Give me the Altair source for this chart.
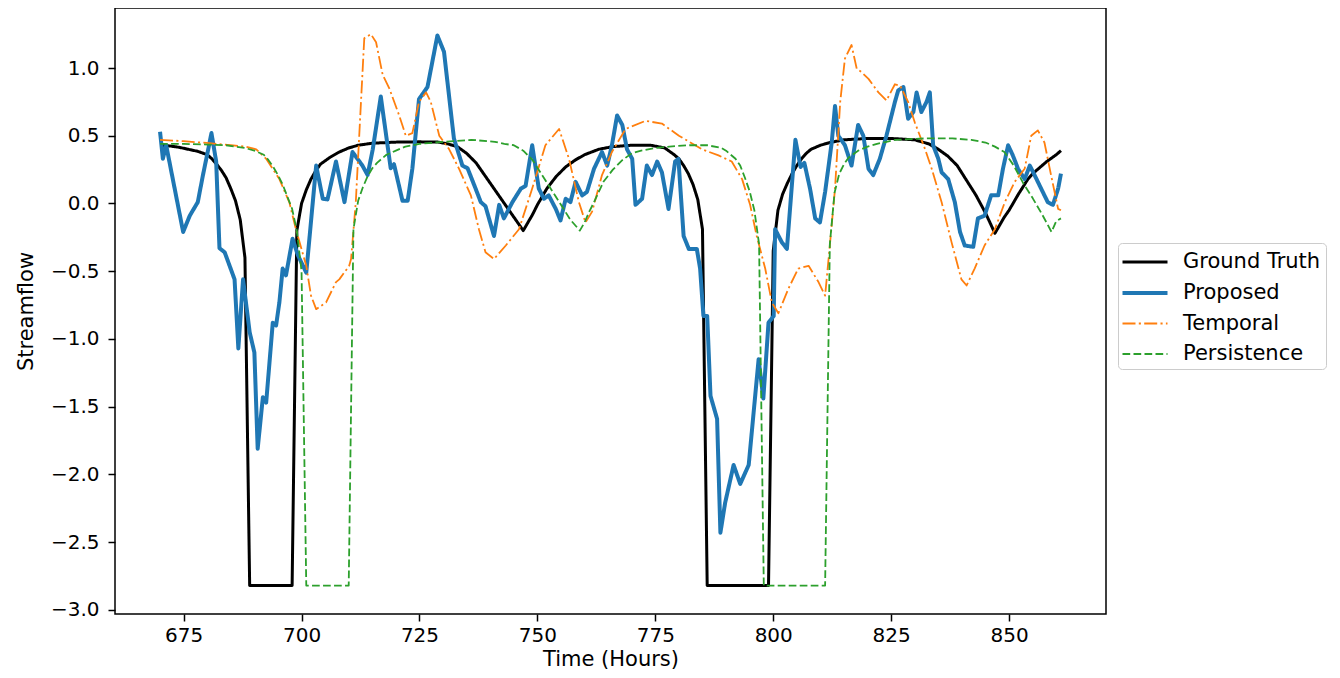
import altair as alt
import pandas as pd

# ---------------- data ----------------
series_names = ["Ground Truth", "Proposed", "Temporal", "Persistence"]

gt_hours = [670, 672, 674, 676, 678, 680, 681, 682, 683, 684, 685, 686, 687, 688, 689,
            698, 699, 700, 701, 702, 703, 704, 706, 708, 710, 712, 715, 720, 725, 729,
            731, 733, 735, 737, 739, 741, 743, 745, 747, 748, 749, 750, 752, 754, 756,
            758, 760, 763, 766, 770, 774, 777, 779, 780, 781, 782, 783, 784, 785, 786,
            799, 800, 801, 802, 803, 804, 805, 806, 807, 808, 810, 812, 815, 820, 825,
            830, 833, 835, 837, 839, 841, 843, 845, 847, 848, 849, 850, 852, 854, 855,
            856, 858, 860, 861]
gt_values = [0.43, 0.425, 0.415, 0.40, 0.385, 0.36, 0.33, 0.29, 0.245, 0.19, 0.11, 0.02, -0.12, -0.40, -2.82,
             -2.82, -0.20, 0.0, 0.10, 0.18, 0.24, 0.29, 0.34, 0.38, 0.41, 0.43, 0.445, 0.453, 0.455, 0.453,
             0.44, 0.42, 0.37, 0.30, 0.20, 0.10, 0.00, -0.10, -0.20, -0.14, -0.08, -0.01, 0.11, 0.20, 0.27,
             0.32, 0.36, 0.40, 0.42, 0.43, 0.43, 0.41, 0.36, 0.33, 0.28, 0.22, 0.14, 0.03, -0.19, -2.82,
             -2.82, -0.35, -0.05, 0.07, 0.15, 0.22, 0.28, 0.33, 0.37, 0.40, 0.43, 0.45, 0.47, 0.48, 0.48,
             0.47, 0.44, 0.40, 0.35, 0.28, 0.17, 0.06, -0.07, -0.22, -0.16, -0.10, -0.05, 0.07, 0.18, 0.22,
             0.25, 0.31, 0.36, 0.39]

prop_hours = [670, 670.6, 671.3, 674.9, 676.3, 678, 679.1, 680.1, 680.9, 681.9, 682.6, 683.7,
              685.8, 686.6, 687.6, 689, 690, 690.7, 691.8, 692.5, 693.9, 694.6, 695.3, 696, 696.7,
              698.1, 699.2, 701, 703.1, 704.5, 705.5, 707.3, 709.1, 710.8, 712.9, 714, 715.1,
              716.8, 718.9, 719.6, 721.4, 722.5, 723.5, 724.9, 726.7, 728.8, 730.2, 732.3, 734.1,
              735.2, 736.9, 738, 739, 740.8, 741.9, 742.9, 744.7, 746.5, 747.5, 748.9, 750.3,
              751.4, 752.4, 753.9, 754.9, 756, 757, 758.1, 759.5, 760.5, 762, 763.7, 764.8,
              765.8, 766.9, 768, 769, 770.1, 770.8, 772.2, 773.2, 774.3, 775.4, 776.4, 777.8,
              779.2, 779.9, 781, 782.1, 783.8, 784.5, 785.2, 786, 786.7, 788.1, 788.8, 789.8,
              791.6, 793, 794.8, 796.9, 797.9, 799, 800.1, 800.4, 801.8, 802.9, 804.7, 805.8,
              806.6, 807.8, 808.9, 809.9, 811, 812.4, 813.1, 813.8, 815.2, 816.6, 818, 819.1,
              820.2, 821.2, 822.6, 824, 825.8, 826.5, 827.6, 828.6, 829.7, 830.4, 831.4, 832.5,
              833.2, 833.9, 835, 835.7, 837.1, 838.5, 839.6, 840.6, 842.4, 843.4, 844.8, 846.2,
              847.7, 848.7, 849.8, 850.8, 851.9, 853.3, 854.4, 855.4, 856.8, 858.2, 859.3, 860.4,
              861]
prop_values = [0.53, 0.33, 0.43, -0.21, -0.09, 0.01, 0.21, 0.38, 0.52, 0.31, -0.33, -0.36,
               -0.56, -1.07, -0.56, -0.95, -1.10, -1.81, -1.43, -1.47, -0.88, -0.90, -0.73, -0.48, -0.53,
               -0.26, -0.38, -0.51, 0.28, 0.035, 0.03, 0.31, 0.01, 0.38, 0.28, 0.21, 0.40,
               0.79, 0.26, 0.29, 0.02, 0.02, 0.26, 0.77, 0.86, 1.24, 1.12, 0.48, 0.28,
               0.26, 0.11, 0.01, -0.02, -0.24, -0.01, -0.11, 0.01, 0.11, 0.13, 0.43, 0.11,
               0.035, 0.06, -0.04, -0.125, 0.035, 0.01, 0.16, 0.06, 0.085, 0.256, 0.38, 0.28,
               0.43, 0.65, 0.58, 0.40, 0.33, -0.01, 0.035, 0.28, 0.21, 0.31, 0.23, -0.04,
               0.31, 0.33, -0.24, -0.335, -0.335, -0.48, -0.83, -0.83, -1.42, -1.59, -2.43, -2.21,
               -1.93, -2.07, -1.93, -1.15, -1.44, -0.88, -0.83, -0.19, -0.285, -0.335, 0.47, 0.27,
               0.30, 0.11, -0.11, -0.14, 0.085, 0.45, 0.72, 0.50, 0.43, 0.28, 0.58, 0.50,
               0.256, 0.21, 0.33, 0.50, 0.75, 0.835, 0.86, 0.625, 0.675, 0.82, 0.675, 0.75,
               0.82, 0.43, 0.33, 0.23, 0.18, 0.01, -0.21, -0.31, -0.32, -0.11, -0.09, 0.06,
               0.06, 0.256, 0.43, 0.355, 0.256, 0.18, 0.28, 0.21, 0.11, 0.01, -0.01, 0.11,
               0.22]

temp_hours = [670, 675, 680.5, 685, 688, 690.4, 692.5, 695.3, 697.4, 698.8, 701, 702, 703.1,
              705.2, 707.3, 708, 710.1, 710.5, 711.5, 712.6, 713.3, 714.7, 715.8, 717.2, 718.6,
              720.7, 722.1, 723.5, 724.9, 726.4, 727.4, 729.2, 731.3, 733.4, 735.9, 737.6, 739,
              740.8, 743.3, 746.1, 748.9, 751.7, 754.6, 756.7, 758.8, 760.2, 761.6, 763.7, 765.8,
              768.7, 772.9, 776.4, 780, 784.9, 788.4, 791.2, 793.4, 795.1, 796.5, 798.3, 799.7,
              801.1, 803.2, 805.3, 807.5, 809.6, 811, 812, 813.1, 814.2, 815.2, 816.6, 817.7,
              818.7, 820.2, 822.3, 824, 825.8, 826.9, 828.6, 830, 832.2, 833.6, 835.7, 837.8,
              839.9, 841, 842.7, 844.8, 847, 849.1, 851.2, 853.3, 854.7, 856.1, 857.5, 858.9,
              860.4, 861]
temp_values = [0.47, 0.46, 0.445, 0.43, 0.42, 0.40, 0.33, 0.18, 0.01, -0.19, -0.46, -0.68, -0.78,
               -0.73, -0.58, -0.56, -0.46, -0.41, 0.01, 0.75, 1.22, 1.25, 1.19, 0.95, 0.85,
               0.65, 0.50, 0.52, 0.75, 0.82, 0.75, 0.50, 0.40, 0.256, 0.06, -0.19, -0.36,
               -0.41, -0.31, -0.19, 0.11, 0.43, 0.55, 0.33, 0.01, -0.14, -0.06, 0.21, 0.38,
               0.55, 0.61, 0.59, 0.50, 0.40, 0.355, 0.31, 0.18, -0.01, -0.24, -0.48, -0.73,
               -0.81, -0.63, -0.48, -0.46, -0.58, -0.68, -0.31, 0.11, 0.75, 1.07, 1.17, 0.995,
               0.97, 0.92, 0.82, 0.76, 0.88, 0.87, 0.75, 0.60, 0.40, 0.256, 0.01, -0.285,
               -0.56, -0.605, -0.48, -0.31, -0.19, 0.01, 0.16, 0.256, 0.50, 0.54, 0.45, 0.21,
               -0.04, -0.05]

pers_hours = [670, 675, 680, 684, 686, 688, 690, 692, 693, 694, 695, 696, 697, 698, 699, 700, 701,
              710, 711, 712, 713, 714, 715, 716, 718, 720, 722, 725, 730, 736, 741, 743, 745,
              747, 749, 751, 753, 755, 757, 759, 760, 761, 762, 764, 766, 768, 770, 772, 775,
              778, 782, 786, 789, 790, 791, 792, 793, 794, 795, 796, 797, 798, 811, 812, 813,
              814, 815, 816, 818, 820, 822, 826, 832, 838, 842, 845, 847, 849, 851, 853, 855,
              857, 859, 860, 861]
pers_values = [0.44, 0.44, 0.435, 0.43, 0.42, 0.41, 0.39, 0.36, 0.32, 0.27, 0.21, 0.14, 0.05, -0.04, -0.20, -0.50, -2.82,
               -2.82, -0.19, 0.02, 0.12, 0.20, 0.26, 0.30, 0.36, 0.39, 0.42, 0.44, 0.455, 0.47, 0.455, 0.44, 0.43,
               0.39, 0.32, 0.21, 0.10, -0.01, -0.12, -0.20, -0.14, -0.06, 0.01, 0.16, 0.25, 0.32, 0.37, 0.39, 0.41,
               0.42, 0.43, 0.43, 0.41, 0.39, 0.36, 0.33, 0.28, 0.19, 0.09, -0.05, -0.30, -2.82, -2.82, -0.30, 0.08,
               0.22, 0.29, 0.34, 0.39, 0.42, 0.44, 0.47, 0.48, 0.48, 0.47, 0.45, 0.42, 0.38, 0.28, 0.15, 0.04,
               -0.08, -0.21, -0.13, -0.11]

x_ticks = [675, 700, 725, 750, 775, 800, 825, 850]
y_ticks = [-3.0, -2.5, -2.0, -1.5, -1.0, -0.5, 0.0, 0.5, 1.0]

# ---------------- styles ----------------
colors = ["#000000", "#1f77b4", "#ff7f0e", "#2ca02c"]
dashes = [[1, 0], [1, 0], [13, 3.3, 2.1, 3.3], [7.7, 3.3]]
widths = [3.0, 4.0, 1.8, 1.8]
FONT = "DejaVu Sans"

frames = []
for name, hrs, vals in [
    ("Ground Truth", gt_hours, gt_values),
    ("Proposed", prop_hours, prop_values),
    ("Temporal", temp_hours, temp_values),
    ("Persistence", pers_hours, pers_values),
]:
    frames.append(pd.DataFrame({"hour": hrs, "value": vals, "series": name}))
df = pd.concat(frames, ignore_index=True)

xscale = alt.Scale(domain=[660.45, 870.55], nice=False, zero=False)
yscale = alt.Scale(domain=[-3.03, 1.443], nice=False, zero=False)

xaxis = alt.Axis(values=x_ticks, format="d", tickSize=7, tickWidth=1.5, tickColor="black",
                 labelFontSize=20, labelFont=FONT, labelColor="black", labelPadding=4,
                 domain=False, grid=False, title="Time (Hours)", titleFontSize=21,
                 titleFont=FONT, titleFontWeight="normal", titleColor="black",
                 titleY=51, titleBaseline="alphabetic")
yaxis = alt.Axis(values=y_ticks, format=".1f", tickSize=7, tickWidth=1.5, tickColor="black",
                 labelFontSize=20, labelFont=FONT, labelColor="black", labelPadding=9,
                 domain=False, grid=False, title="Streamflow", titleFontSize=21,
                 titleFont=FONT, titleFontWeight="normal", titleColor="black",
                 titleX=-83, titleY=303, titleAngle=270, titleAlign="center",
                 titleBaseline="alphabetic")

legend = alt.Legend(title=None, orient="none", legendX=1003, legendY=235,
                    symbolType="M-1.2,0L2.4,0", symbolSize=625,
                    labelFontSize=21, labelFont=FONT, labelColor="black", labelOffset=31,
                    labelLimit=400, padding=5, rowPadding=6.5,
                    strokeColor="#cccccc", fillColor="white", cornerRadius=4)

base = alt.Chart(df)
layers = []
for name in series_names:
    layers.append(
        base.transform_filter(alt.datum.series == name)
        .mark_line(strokeJoin="round")
        .encode(
            x=alt.X("hour:Q", scale=xscale, axis=xaxis),
            y=alt.Y("value:Q", scale=yscale, axis=yaxis),
            color=alt.Color("series:N", scale=alt.Scale(domain=series_names, range=colors), legend=legend),
            strokeDash=alt.StrokeDash("series:N", scale=alt.Scale(domain=series_names, range=dashes), legend=legend),
            strokeWidth=alt.StrokeWidth("series:N", scale=alt.Scale(type="ordinal", domain=series_names, range=widths), legend=legend),
        )
    )

chart = (
    alt.layer(*layers)
    .properties(width=991, height=606, autosize=alt.AutoSizeParams(type="none"),
                padding={"left": 107, "top": 0, "right": 226, "bottom": 55},
                background="white")
    .configure_view(stroke="black", strokeWidth=1.5)
)

chart.save("out.html", embed_options={"renderer": "svg", "actions": False})
